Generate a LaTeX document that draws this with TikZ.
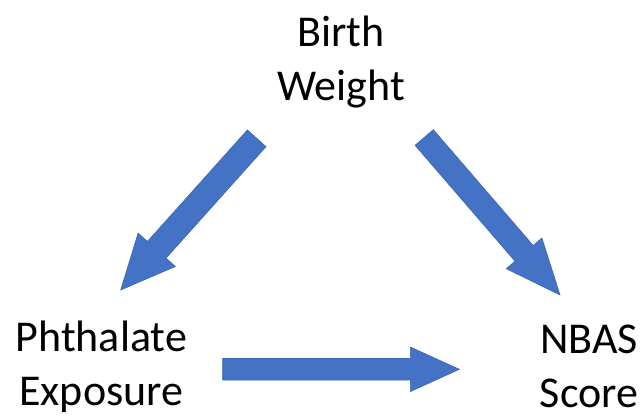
\documentclass[tikz,border=0pt]{standalone}
\usepackage{fontspec}
\setmainfont{Carlito}
\usetikzlibrary{calc}
\definecolor{arrowblue}{HTML}{4472C4}
\definecolor{arrowedge}{HTML}{3B65B3}
% #1 tail, #2 tip, #3 shaft half width, #4 head half width, #5 head length
\newcommand\blockarrow[5]{%
  \coordinate (ba-n) at ($(#2)!#5!(#1)$);
  \draw[blockarrow] ($(#1)!#3!90:(#2)$) -- ($(ba-n)!#3!90:(#2)$) -- ($(ba-n)!#4!90:(#2)$)
    -- (#2) -- ($(ba-n)!#4!-90:(#2)$) -- ($(ba-n)!#3!-90:(#2)$) -- ($(#1)!#3!-90:(#2)$) -- cycle;}
\begin{document}
\begin{tikzpicture}[x=1pt,y=-1pt,
  lbl/.style={align=center, inner sep=0pt, font=\fontsize{44}{54}\selectfont, anchor=base},
  blockarrow/.style={fill=arrowblue, draw=arrowedge, line width=0.6pt, line join=miter}]
\useasboundingbox (0,0) rectangle (644,419);
\node[lbl] (bw) at (341,100.5) {Birth\\Weight};
\node[lbl] (ph) at (101.3,405) {Phthalate\\Exposure};
\node[lbl] (nb) at (589,407) {NBAS\\Score};
\coordinate (bwl) at (256.7,138.3);
\coordinate (phu) at (120.7,290);
\coordinate (bwr) at (424.2,137.5);
\coordinate (nbu) at (560,295);
\coordinate (phr) at (222.7,369.3);
\coordinate (nbl) at (459.3,369.3);
\blockarrow{bwl}{phu}{12.5pt}{25pt}{54pt}
\blockarrow{bwr}{nbu}{12pt}{23.5pt}{55pt}
\blockarrow{phr}{nbl}{10.8pt}{22.3pt}{49pt}
\end{tikzpicture}
\end{document}
